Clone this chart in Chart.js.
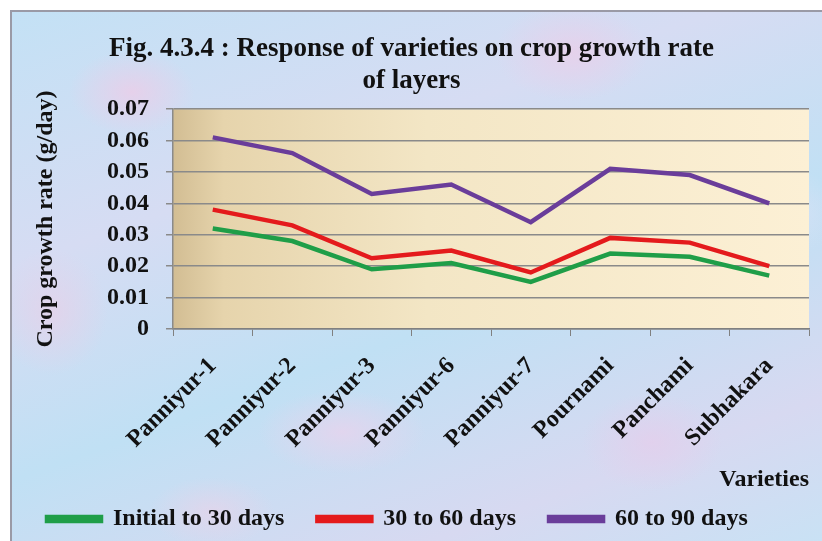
<!DOCTYPE html>
<html>
<head>
<meta charset="utf-8">
<script src="https://cdn.jsdelivr.net/npm/chart.js@4"></script>
<style>
  html, body { margin: 0; padding: 0; background: #fff; }
  #wrap { position: relative; width: 822px; height: 541px; overflow: hidden; }
  #bg {
    position: absolute; left: 10px; top: 10px; width: 830px; height: 550px;
    border-left: 2px solid #9a9aa6; border-top: 2px solid #9a9aa6;
    background:
      radial-gradient(ellipse 90px 60px at 120px 80px, rgba(236,205,232,0.8), rgba(236,205,232,0) 70%),
      radial-gradient(ellipse 110px 70px at 560px 40px, rgba(236,205,232,0.7), rgba(236,205,232,0) 70%),
      radial-gradient(ellipse 80px 90px at 40px 300px, rgba(232,208,232,0.7), rgba(232,208,232,0) 70%),
      radial-gradient(ellipse 120px 60px at 330px 420px, rgba(236,210,236,0.7), rgba(236,210,236,0) 70%),
      radial-gradient(ellipse 100px 70px at 640px 430px, rgba(230,205,235,0.7), rgba(230,205,235,0) 70%),
      radial-gradient(ellipse 90px 50px at 200px 500px, rgba(236,210,232,0.6), rgba(236,210,232,0) 70%),
      radial-gradient(ellipse 70px 60px at 780px 200px, rgba(215,225,245,0.8), rgba(215,225,245,0) 70%),
      linear-gradient(160deg, #c3e1f5 0%, #d6dcf3 30%, #c0e0f4 55%, #d7d9f1 80%, #c6e3f5 100%);
  }
  canvas { position: absolute; left: 0; top: 0; }
</style>
</head>
<body>
<div id="wrap">
  <div id="bg"></div>
  <canvas id="myChart" width="822" height="541"></canvas>
</div>
<script>
// data
const varieties = ["Panniyur-1", "Panniyur-2", "Panniyur-3", "Panniyur-6", "Panniyur-7", "Pournami", "Panchami", "Subhakara"];
const initialTo30 = [0.032, 0.028, 0.019, 0.021, 0.015, 0.024, 0.023, 0.017];
const days30to60 = [0.038, 0.033, 0.0225, 0.025, 0.018, 0.029, 0.0275, 0.020];
const days60to90 = [0.061, 0.056, 0.043, 0.046, 0.034, 0.051, 0.049, 0.040];
const seriesNames = ["Initial to 30 days", "30 to 60 days", "60 to 90 days"];
const yTicks = [0, 0.01, 0.02, 0.03, 0.04, 0.05, 0.06, 0.07];

const serif = "'Liberation Serif', 'Times New Roman', serif";

// plot area fill, tan on the left fading to cream
const plotBg = {
  id: "plotBg",
  beforeDraw(chart) {
    const { ctx, chartArea: a } = chart;
    const g = ctx.createLinearGradient(a.left, 0, a.right, 0);
    g.addColorStop(0, "#d2bd93");
    g.addColorStop(0.08, "#e6d4ac");
    g.addColorStop(0.4, "#f3e6c5");
    g.addColorStop(1, "#fcf0d5");
    ctx.save();
    ctx.fillStyle = g;
    ctx.fillRect(a.left, a.top, a.right - a.left, a.bottom - a.top);
    ctx.restore();
  }
};

const colors = ["#1f9e48", "#e41a1c", "#6a3d9a"];
const values = [initialTo30, days30to60, days60to90];

const data = {
  labels: varieties,
  datasets: seriesNames.map((name, i) => ({
    label: name,
    data: values[i],
    borderColor: colors[i],
    backgroundColor: colors[i],
    borderWidth: 4.5,
    pointRadius: 0,
    tension: 0
  }))
};

const config = {
  type: "line",
  data,
  plugins: [plotBg],
  options: {
    responsive: false,
    animation: false,
    layout: { padding: { left: 14, right: 13, top: 12, bottom: 0 } },
    plugins: {
      title: {
        display: true,
        text: ["Fig. 4.3.4 : Response of varieties on crop growth rate", "of layers"],
        color: "#111",
        font: { family: serif, size: 27, weight: "bold", lineHeight: 1.15 },
        padding: { top: 22, bottom: 13 }
      },
      legend: {
        position: "bottom",
        align: "start",
        labels: {
          color: "#111",
          font: { family: serif, size: 24, weight: "bold" },
          boxWidth: 54,
          boxHeight: 4,
          padding: 33
        }
      },
      tooltip: { enabled: false }
    },
    scales: {
      x: {
        offset: true,
        afterFit(scale) { scale.height = 145; },
        grid: { display: true, drawOnChartArea: false, color: "#808080", tickLength: 7, offset: true },
        border: { display: true, color: "#808080", width: 1.5 },
        ticks: {
          color: "#111",
          font: { family: serif, size: 24, weight: "bold" },
          autoSkip: false,
          maxRotation: 45,
          minRotation: 45,
          padding: 16
        },
        title: {
          display: true,
          text: "Varieties",
          align: "end",
          color: "#111",
          font: { family: serif, size: 24, weight: "bold" },
          padding: { top: 0, bottom: -20 }
        }
      },
      y: {
        min: 0,
        max: 0.07,
        afterFit(scale) { scale.width = 159; },
        afterBuildTicks(scale) {
          scale.ticks = yTicks.map((v) => ({ value: v }));
        },
        grid: { color: "#8a8a8a", lineWidth: 1.5, tickLength: 7 },
        border: { display: true, color: "#8a8a8a", width: 1.5 },
        ticks: {
          color: "#111",
          font: { family: serif, size: 24, weight: "bold" },
          autoSkip: false,
          padding: 17,
          callback: (v) => (v === 0 ? "0" : v.toFixed(2))
        },
        title: {
          display: true,
          text: "Crop growth rate (g/day)",
          color: "#111",
          font: { family: serif, size: 24, weight: "bold" },
          padding: { top: 17, bottom: 0 }
        }
      }
    }
  }
};

const myChart = new Chart(document.getElementById("myChart"), config);
</script>
</body>
</html>
